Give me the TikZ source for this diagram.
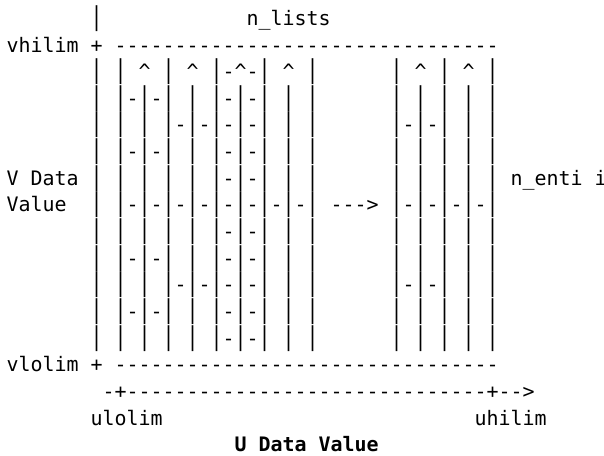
\documentclass[tikz,border=0pt]{standalone}
\usepackage{fontspec}
\setmonofont{DejaVu Sans Mono}
\usepackage{graphicx}
\newcommand{\vb}{\scalebox{1}[1.3]{|}}
\newcommand{\caret}{\textasciicircum}
\tikzset{%
  % Specifications for style of nodes:
      ascii/.style = {inner sep=0pt, outer sep=0pt, anchor=base west,
                      font=\ttfamily\fontsize{9.97}{13.32}\selectfont},
  asciibold/.style = {ascii,
                      font=\ttfamily\fontsize{9.97}{13.32}\selectfont\bfseries},
}
\begin{document}
\begin{tikzpicture}[x=6pt, y=-13.32pt]
  \useasboundingbox (-3.25pt,12.7pt) rectangle (298.75pt,-214.8pt);

  % Specification of nodes (position, etc.)
  \node (vtop)    [ascii] at (7,0)  {\vb};
  \node (nlists)  [ascii] at (20,0) {n\_lists};
  \node (vhilim)  [ascii] at (0,1)  {vhilim~+~--------------------------------};

  % lists with their entries
  \node (row2)    [ascii] at (7,2)  {\vb~\vb~\caret~\vb~\caret~\vb-\caret-\vb~\caret~\vb~~~~~~\vb~\caret~\vb~\caret~\vb};
  \node (row3)    [ascii] at (7,3)  {\vb~\vb-\vb-\vb~\vb~\vb-\vb-\vb~\vb~\vb~~~~~~\vb~\vb~\vb~\vb~\vb};
  \node (row4)    [ascii] at (7,4)  {\vb~\vb~\vb~\vb-\vb-\vb-\vb-\vb~\vb~\vb~~~~~~\vb-\vb-\vb~\vb~\vb};
  \node (row5)    [ascii] at (7,5)  {\vb~\vb-\vb-\vb~\vb~\vb-\vb-\vb~\vb~\vb~~~~~~\vb~\vb~\vb~\vb~\vb};
  \node (row6)    [ascii] at (7,6)  {\vb~\vb~\vb~\vb~\vb~\vb-\vb-\vb~\vb~\vb~~~~~~\vb~\vb~\vb~\vb~\vb};
  \node (row7)    [ascii] at (7,7)  {\vb~\vb-\vb-\vb-\vb-\vb-\vb-\vb-\vb-\vb~--->~\vb-\vb-\vb-\vb-\vb};
  \node (row8)    [ascii] at (7,8)  {\vb~\vb~\vb~\vb~\vb~\vb-\vb-\vb~\vb~\vb~~~~~~\vb~\vb~\vb~\vb~\vb};
  \node (row9)    [ascii] at (7,9)  {\vb~\vb-\vb-\vb~\vb~\vb-\vb-\vb~\vb~\vb~~~~~~\vb~\vb~\vb~\vb~\vb};
  \node (row10)   [ascii] at (7,10) {\vb~\vb~\vb~\vb-\vb-\vb-\vb-\vb~\vb~\vb~~~~~~\vb-\vb-\vb~\vb~\vb};
  \node (row11)   [ascii] at (7,11) {\vb~\vb-\vb-\vb~\vb~\vb-\vb-\vb~\vb~\vb~~~~~~\vb~\vb~\vb~\vb~\vb};
  \node (row12)   [ascii] at (7,12) {\vb~\vb~\vb~\vb~\vb~\vb-\vb-\vb~\vb~\vb~~~~~~\vb~\vb~\vb~\vb~\vb};

  \node (vdata)   [ascii] at (0,6)  {V~Data};
  \node (value)   [ascii] at (0,7)  {Value};
  \node (nenti)   [ascii] at (42,6) {n\_enti~i};

  \node (vlolim)  [ascii] at (0,13) {vlolim~+~--------------------------------};
  \node (uaxis)   [ascii] at (8,14) {-+------------------------------+-->};
  \node (ulolim)  [ascii] at (7,15) {ulolim};
  \node (uhilim)  [ascii] at (39,15) {uhilim};
  \node (udata)   [asciibold] at (19,16) {U~Data~Value};
\end{tikzpicture}
\end{document}
